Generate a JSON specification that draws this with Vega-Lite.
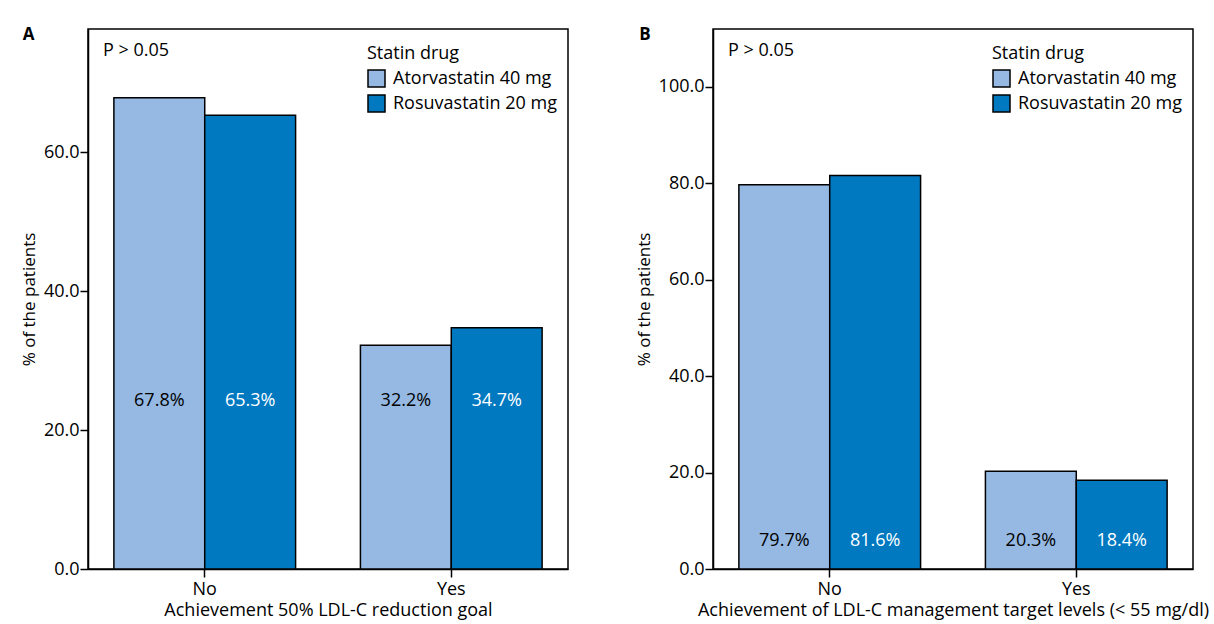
{
  "$schema": "https://vega.github.io/schema/vega-lite/v6.json",
  "padding": {"left": 19, "top": 26, "right": 0, "bottom": 0},
  "background": "white",
  "spacing": 65,
  "config": {
    "font": "Open Sans",
    "view": {"stroke": "black", "strokeWidth": 1.5},
    "axis": {
      "labelFont": "Open Sans", "labelFontSize": 18, "labelColor": "black",
      "titleFont": "Open Sans", "titleFontSize": 18, "titleFontWeight": "normal", "titleColor": "black",
      "domainColor": "black", "tickColor": "black", "grid": false, "tickSize": 8,
      "domainWidth": 1.5, "tickWidth": 1.5
    },
    "axisY": {"labelPadding": 1, "titlePadding": 5, "titleFontSize": 17},
    "axisX": {"labelPadding": 3, "titlePadding": 3, "labelAngle": 0},
    "legend": {
      "titleFont": "Open Sans", "titleFontSize": 18, "titleFontWeight": "normal", "titleColor": "black",
      "labelFont": "Open Sans", "labelFontSize": 18, "labelColor": "black", "labelLimit": 400,
      "symbolType": "square", "symbolSize": 289, "symbolStrokeColor": "black", "symbolStrokeWidth": 1.5,
      "symbolOpacity": 1, "rowPadding": 2, "titlePadding": 6, "labelOffset": 7
    },
    "title": {"font": "Open Sans", "fontSize": 18, "color": "black"}
  },
  "datasets": {
    "a": [
      {"group": "No", "drug": "Atorvastatin 40 mg", "value": 67.8, "label": "67.8%"},
      {"group": "No", "drug": "Rosuvastatin 20 mg", "value": 65.3, "label": "65.3%"},
      {"group": "Yes", "drug": "Atorvastatin 40 mg", "value": 32.2, "label": "32.2%"},
      {"group": "Yes", "drug": "Rosuvastatin 20 mg", "value": 34.7, "label": "34.7%"}
    ],
    "b": [
      {"group": "No", "drug": "Atorvastatin 40 mg", "value": 79.7, "label": "79.7%"},
      {"group": "No", "drug": "Rosuvastatin 20 mg", "value": 81.6, "label": "81.6%"},
      {"group": "Yes", "drug": "Atorvastatin 40 mg", "value": 20.3, "label": "20.3%"},
      {"group": "Yes", "drug": "Rosuvastatin 20 mg", "value": 18.4, "label": "18.4%"}
    ]
  },
  "hconcat": [
    {
      "title": {"text": "A", "anchor": "start", "frame": "bounds", "dx": 3, "fontSize": 17, "fontWeight": "bold", "offset": -16},
      "vconcat": [
        {
          "width": 480, "height": 540,
          "title": {"text": "P > 0.05", "anchor": "start", "frame": "group", "dx": 15, "offset": -31, "fontSize": 18, "fontWeight": "normal"},
          "data": {"name": "a"},
          "layer": [
            {
              "mark": {"type": "bar", "stroke": "black", "strokeWidth": 1.5},
              "encoding": {
                "x": {"field": "group", "type": "nominal", "scale": {"paddingInner": 0.263, "paddingOuter": 0.105},
                      "axis": {"title": "Achievement 50% LDL-C reduction goal"}},
                "xOffset": {"field": "drug", "type": "nominal"},
                "y": {"field": "value", "type": "quantitative", "scale": {"domain": [0, 77.7], "nice": false},
                      "axis": {"values": [0, 20, 40, 60], "format": ".1f", "title": "% of the patients"}},
                "color": {"field": "drug", "type": "nominal",
                          "scale": {"domain": ["Atorvastatin 40 mg", "Rosuvastatin 20 mg"], "range": ["#95b9e3", "#0079c1"]},
                          "legend": {"title": "Statin drug", "orient": "none", "legendX": 279, "legendY": 16}}
              }
            },
            {
              "mark": {"type": "text", "fontSize": 18, "font": "Open Sans"},
              "encoding": {
                "x": {"field": "group", "type": "nominal"},
                "xOffset": {"field": "drug", "type": "nominal"},
                "y": {"datum": 24.2, "type": "quantitative"},
                "text": {"field": "label"},
                "color": {"field": "drug", "type": "nominal", "scale": {"domain": ["Atorvastatin 40 mg", "Rosuvastatin 20 mg"], "range": ["black", "white"]}, "legend": null}
              }
            }
          ],
          "resolve": {"scale": {"color": "independent"}}
        }
      ]
    },
    {
      "title": {"text": "B", "anchor": "start", "frame": "bounds", "dx": 5, "fontSize": 17, "fontWeight": "bold", "offset": -16},
      "vconcat": [
        {
          "width": 480, "height": 540,
          "title": {"text": "P > 0.05", "anchor": "start", "frame": "group", "dx": 15, "offset": -31, "fontSize": 18, "fontWeight": "normal"},
          "data": {"name": "b"},
          "layer": [
            {
              "mark": {"type": "bar", "stroke": "black", "strokeWidth": 1.5},
              "encoding": {
                "x": {"field": "group", "type": "nominal", "scale": {"paddingInner": 0.263, "paddingOuter": 0.105},
                      "axis": {"title": "Achievement of LDL-C management target levels (< 55 mg/dl)"}},
                "xOffset": {"field": "drug", "type": "nominal"},
                "y": {"field": "value", "type": "quantitative", "scale": {"domain": [0, 112], "nice": false},
                      "axis": {"values": [0, 20, 40, 60, 80, 100], "format": ".1f", "title": "% of the patients"}},
                "color": {"field": "drug", "type": "nominal",
                          "scale": {"domain": ["Atorvastatin 40 mg", "Rosuvastatin 20 mg"], "range": ["#95b9e3", "#0079c1"]},
                          "legend": {"title": "Statin drug", "orient": "none", "legendX": 279, "legendY": 16}}
              }
            },
            {
              "mark": {"type": "text", "fontSize": 18, "font": "Open Sans"},
              "encoding": {
                "x": {"field": "group", "type": "nominal"},
                "xOffset": {"field": "drug", "type": "nominal"},
                "y": {"datum": 5.8, "type": "quantitative"},
                "text": {"field": "label"},
                "color": {"field": "drug", "type": "nominal", "scale": {"domain": ["Atorvastatin 40 mg", "Rosuvastatin 20 mg"], "range": ["black", "white"]}, "legend": null}
              }
            }
          ],
          "resolve": {"scale": {"color": "independent"}}
        }
      ]
    }
  ]
}
